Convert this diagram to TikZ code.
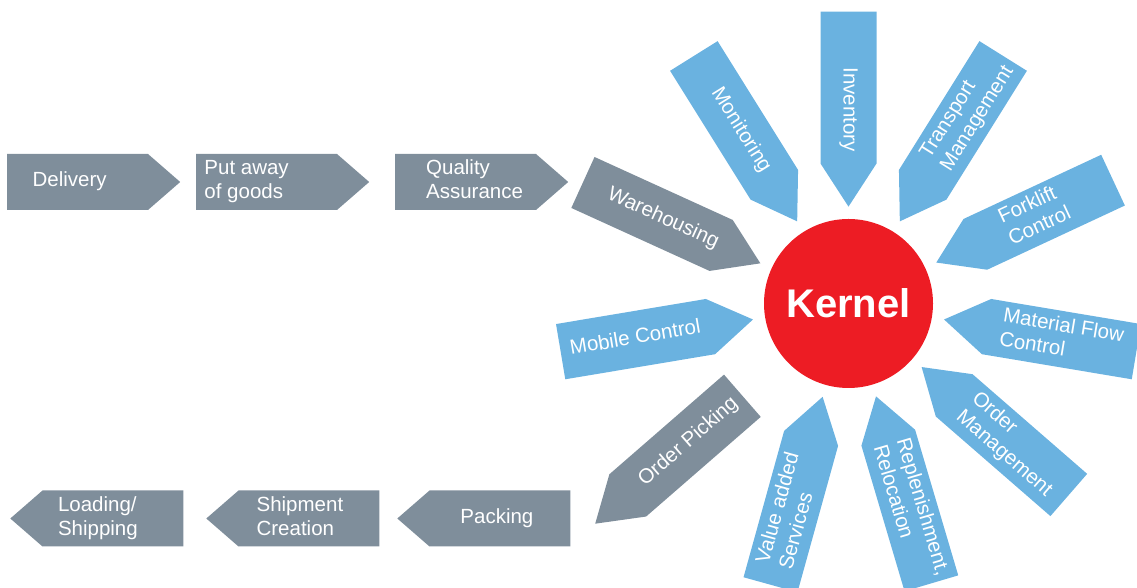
\documentclass[tikz,border=0pt]{standalone}
\usepackage{fontspec}
\setmainfont{Liberation Sans}
\usetikzlibrary{shapes.symbols}
\definecolor{wmsgray}{RGB}{127,142,155}
\definecolor{wmsblue}{RGB}{106,178,224}
\definecolor{wmsred}{RGB}{237,28,36}
% label set left aligned and moved along the arrow by #1
\newcommand{\arrowtext}[2]{\hspace*{#1}\begin{tabular}{@{}l@{}}#2\end{tabular}\hspace*{-#1}}
\tikzset{
  process/.style={signal, fill=wmsgray, text=white, minimum width=173pt, minimum height=56pt,
    signal pointer angle=82, font=\fontsize{20.5}{24}\selectfont},
  module/.style={signal, fill=wmsblue, text=white, minimum width=195pt, minimum height=56pt,
    inner xsep=2pt, signal pointer angle=66, font=\fontsize{20.5}{24}\selectfont}
}
\begin{document}
\begin{tikzpicture}[x=1pt,y=1pt]
\useasboundingbox (0,0) rectangle (1137,588);
% incoming chain
\node[process, signal to=east, anchor=west] (delivery) at (7,406) {\arrowtext{-8pt}{Delivery}};
\node[process, signal to=east, anchor=west] (putaway) at (196,406) {\arrowtext{-20pt}{Put away\\of goods}};
\node[process, signal to=east, anchor=west] (quality) at (395,406) {\arrowtext{9pt}{Quality\\Assurance}};
% outgoing chain
\node[process, signal to=west, anchor=west] (loading) at (10,69.5) {\arrowtext{-15pt}{Loading/\\Shipping}};
\node[process, signal to=west, anchor=west] (shipment) at (206,69.5) {\arrowtext{-9pt}{Shipment\\Creation}};
\node[process, signal to=west, anchor=west] (packing) at (397,69.5) {\arrowtext{-3pt}{Packing}};

\node[circle, fill=wmsred, minimum size=169pt, text=white, font=\bfseries\fontsize{40}{48}\selectfont] (kernel) at (848.5,284.5) {Kernel};

\begin{scope}[shift={(kernel.center)}]
\node[module, signal to=west, rotate=25, anchor=west] (forklift) at (25:96.5) {\arrowtext{-10pt}{Forklift\\Control}};
\node[module, signal to=west, rotate=58, anchor=west] (transport) at (58:96.5) {\arrowtext{9pt}{Transport\\Management}};
\node[module, signal to=east, rotate=-90, anchor=east] (inventory) at (90:96.5) {\arrowtext{22pt}{Inventory}};
\node[module, signal to=east, rotate=-58, anchor=east] (monitoring) at (122:96.5) {\arrowtext{12pt}{Monitoring}};
\node[module, fill=wmsgray, signal to=east, rotate=-24.5, anchor=east] (warehousing) at (155.5:96.5) {\arrowtext{12pt}{Warehousing}};
\node[module, signal to=east, rotate=9.5, anchor=east] (mobile) at (189.5:96.5) {\arrowtext{0pt}{Mobile Control}};
\node[module, fill=wmsgray, signal to=west, rotate=41, anchor=west] (picking) at (221:336) {\arrowtext{5pt}{Order Picking}};
\node[module, signal to=east, rotate=74.5, anchor=east] (valueadded) at (254.5:96.5) {\arrowtext{0pt}{Value added\\Services}};
\node[module, signal to=west, rotate=-73.5, anchor=west] (replenish) at (286.5:96.5) {\arrowtext{0pt}{Replenishment,\\Relocation}};
\node[module, signal to=west, rotate=-41, anchor=west] (ordermgmt) at (319:96.5) {\arrowtext{0pt}{Order\\Management}};
\node[module, signal to=west, rotate=-9.5, anchor=west] (materialflow) at (350.5:96.5) {\arrowtext{0pt}{Material Flow\\Control}};
\end{scope}
\end{tikzpicture}
\end{document}
